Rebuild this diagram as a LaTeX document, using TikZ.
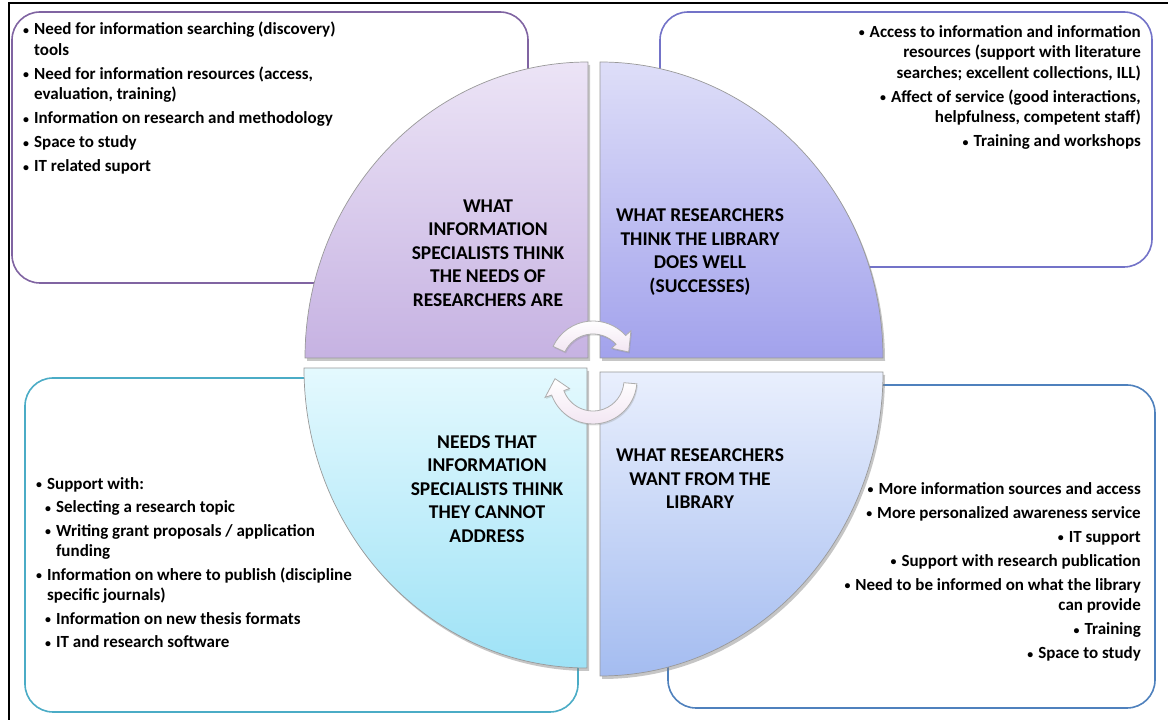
\documentclass[tikz,border=0pt]{standalone}
\usepackage{fontspec}
\setmainfont{Carlito}
\usetikzlibrary{shadows}

\definecolor{lilac}{RGB}{128,100,162}
\definecolor{periwinkle}{RGB}{115,115,200}
\definecolor{aqua}{RGB}{75,172,198}
\definecolor{steel}{RGB}{79,129,189}

\newcommand{\itm}{\raisebox{.6pt}{\scalebox{.7}{\textbullet}}\hspace{5pt}}
\newcommand{\ind}{\hphantom{\itm}}
\newcommand{\sub}{\hspace*{9pt}}

\begin{document}
	\begin{tikzpicture}
		[x=1pt, y=1pt,
		every node/.style={inner sep=0pt, font=\bfseries\fontsize{17}{20.5}\selectfont},
		listbox/.style={line width=1.6pt, rounded corners=28pt, fill=white},
		quarter/.style={draw=black!40, line width=.7pt,
			drop shadow={shadow xshift=2pt, shadow yshift=-3pt, opacity=.45}},
		heading/.style={align=center, font=\bfseries\fontsize{19.5}{23.5}\selectfont},
		cyclearrow/.style={draw=black!32, line width=.8pt, top color=white, bottom color=violet!10,
			drop shadow={shadow xshift=1pt, shadow yshift=-1.5pt, opacity=.25}},
		]

		\useasboundingbox (0,0) rectangle (1168,720);
		\draw[line width=1.5pt] (9,0) |- (1168,717);

		% the four boxes of notes, behind the circle
		\draw[listbox, draw=lilac] (12,437) rectangle (528,708);
		\draw[listbox, draw=periwinkle] (660,453) rectangle (1152,708);
		\draw[listbox, draw=aqua] (25,8) rectangle (578,342);
		\draw[listbox, draw=steel] (668,12) rectangle (1155,335);

		% circle cut into quarters
		\path[quarter, top color={rgb,255:red,236;green,228;blue,246}, bottom color={rgb,255:red,198;green,178;blue,226}]
			(588,362) -- (305,362) arc[start angle=180, end angle=90, x radius=283, y radius=296] -- cycle;
		\path[quarter, top color={rgb,255:red,222;green,222;blue,248}, bottom color={rgb,255:red,162;green,162;blue,236}]
			(600,362) -- (600,658) arc[start angle=90, end angle=0, x radius=283, y radius=296] -- cycle;
		\path[quarter, top color={rgb,255:red,228;green,249;blue,254}, bottom color={rgb,255:red,158;green,226;blue,246}]
			(587,352) -- (304,352) arc[start angle=180, end angle=270, x radius=283, y radius=300] -- cycle;
		\path[quarter, top color={rgb,255:red,233;green,239;blue,253}, bottom color={rgb,255:red,164;green,188;blue,240}]
			(600,348) -- (600,44) arc[start angle=270, end angle=360, x radius=283, y radius=304] -- cycle;

		\begin{scope}[shift={(593,355)}]
			\path[cyclearrow] (155:44) arc[start angle=155, end angle=42, radius=44]
				-- (42:51) -- (20:38) -- (42:25) -- (42:31) arc[start angle=42, end angle=155, radius=31] -- cycle;
		\end{scope}
		\begin{scope}[shift={(593,340)}]
			\path[cyclearrow] (-5:44) arc[start angle=-5, end angle=-160, radius=44]
				-- (-160:51) -- (-182:38) -- (-160:25) -- (-160:31) arc[start angle=-160, end angle=-5, radius=31] -- cycle;
		\end{scope}

		\node[heading] (thinkneeds) at (488,467) {WHAT\\INFORMATION\\SPECIALISTS THINK\\THE NEEDS OF\\RESEARCHERS ARE};
		\node[heading] (doeswell) at (700,468) {WHAT RESEARCHERS\\THINK THE LIBRARY\\DOES WELL\\(SUCCESSES)};
		\node[heading] (cannot) at (487,231) {NEEDS THAT\\INFORMATION\\SPECIALISTS THINK\\THEY CANNOT\\ADDRESS};
		\node[heading] (want) at (700,241) {WHAT RESEARCHERS\\WANT FROM THE\\LIBRARY};

		\node[anchor=north west, align=left] (needslist) at (23,698)
			{\itm Need for information searching (discovery)\\ \ind tools\\[3.5pt]
			\itm Need for information resources (access,\\ \ind evaluation, training)\\[3.5pt]
			\itm Information on research and methodology\\[3.5pt]
			\itm Space to study\\[3.5pt]
			\itm IT related suport};
		\node[anchor=north east, align=right] (welllist) at (1141,695)
			{\itm Access to information and information\\ resources (support with literature\\ searches; excellent collections, ILL)\\[3.5pt]
			\itm Affect of service (good interactions,\\ helpfulness, competent staff)\\[3.5pt]
			\itm Training and workshops};
		\node[anchor=north west, align=left] (cannotlist) at (36,243)
			{\itm Support with:\\[3pt]
			\sub\itm Selecting a research topic\\[3pt]
			\sub\itm Writing grant proposals / application\\ \sub\ind funding\\[3pt]
			\itm Information on where to publish (discipline\\ \ind specific journals)\\[3pt]
			\sub\itm Information on new thesis formats\\[3pt]
			\sub\itm IT and research software};
		\node[anchor=north east, align=right] (wantlist) at (1141,238)
			{\itm More information sources and access\\[3.5pt]
			\itm More personalized awareness service\\[3.5pt]
			\itm IT support\\[3.5pt]
			\itm Support with research publication\\[3.5pt]
			\itm Need to be informed on what the library\\ can provide\\[3.5pt]
			\itm Training\\[3.5pt]
			\itm Space to study};
	\end{tikzpicture}
\end{document}
